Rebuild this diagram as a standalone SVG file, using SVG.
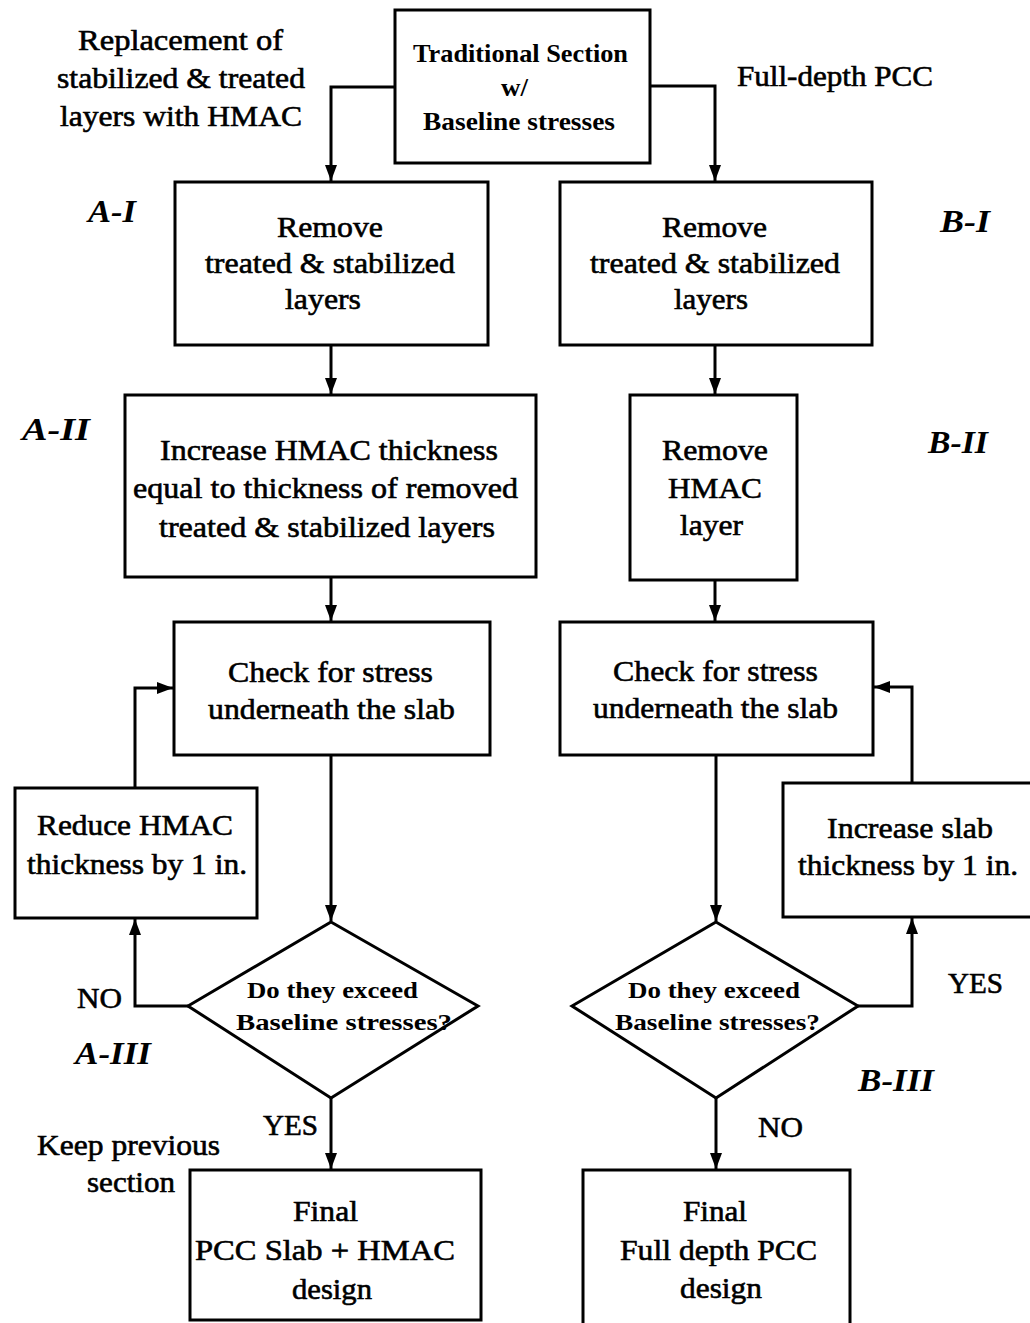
<svg xmlns="http://www.w3.org/2000/svg" width="1030" height="1323" viewBox="0 0 1030 1323">
<style>
.box{fill:#fff;stroke:#000;stroke-width:3}
.ln{fill:none;stroke:#000;stroke-width:3}
text{font-family:"Liberation Serif","Times New Roman",serif;fill:#000}
.t{font-size:30px;stroke:#000;stroke-width:0.6}
.tb{font-size:26px;font-weight:bold}
.lab{font-size:31px;font-weight:bold;font-style:italic}
.dt{font-size:23px;font-weight:bold}
</style>
<defs>
<marker id="ah" viewBox="0 0 16 12" markerWidth="16" markerHeight="12" refX="16" refY="6" orient="auto" markerUnits="userSpaceOnUse">
<path d="M0,0 L16,6 L0,12 z" fill="#000"/>
</marker>
</defs>

<g id="connectors">
<path class="ln" d="M395,87 H331 V181" marker-end="url(#ah)"/>
<path class="ln" d="M650,86 H715 V181" marker-end="url(#ah)"/>
<path class="ln" d="M331,345 V394" marker-end="url(#ah)"/>
<path class="ln" d="M715,345 V394" marker-end="url(#ah)"/>
<path class="ln" d="M331,577 V621" marker-end="url(#ah)"/>
<path class="ln" d="M715,580 V621" marker-end="url(#ah)"/>
<path class="ln" d="M331,755 V921" marker-end="url(#ah)"/>
<path class="ln" d="M716,755 V921" marker-end="url(#ah)"/>
<path class="ln" d="M331,1098 V1169" marker-end="url(#ah)"/>
<path class="ln" d="M716,1098 V1169" marker-end="url(#ah)"/>
<path class="ln" d="M188,1006 H135 V919" marker-end="url(#ah)"/>
<path class="ln" d="M135,788 V688 H173" marker-end="url(#ah)"/>
<path class="ln" d="M858,1006 H912 V918" marker-end="url(#ah)"/>
<path class="ln" d="M912,783 V687 H874" marker-end="url(#ah)"/>
</g>

<g id="labels">
<text class="t" x="78" y="50" textLength="205" lengthAdjust="spacingAndGlyphs">Replacement of</text>
<text class="t" x="57" y="88" textLength="248" lengthAdjust="spacingAndGlyphs">stabilized &amp; treated</text>
<text class="t" x="60" y="126" textLength="242" lengthAdjust="spacingAndGlyphs">layers with HMAC</text>
<text class="t" x="737" y="86" textLength="196" lengthAdjust="spacingAndGlyphs">Full-depth PCC</text>
<text class="lab" x="88" y="222" textLength="48" lengthAdjust="spacingAndGlyphs">A-I</text>
<text class="lab" x="940" y="232" textLength="50" lengthAdjust="spacingAndGlyphs">B-I</text>
<text class="lab" x="22" y="440" textLength="68" lengthAdjust="spacingAndGlyphs">A-II</text>
<text class="lab" x="928" y="453" textLength="60" lengthAdjust="spacingAndGlyphs">B-II</text>
<text class="lab" x="75" y="1064" textLength="76" lengthAdjust="spacingAndGlyphs">A-III</text>
<text class="lab" x="858" y="1091" textLength="76" lengthAdjust="spacingAndGlyphs">B-III</text>
<text class="t" x="77" y="1008" textLength="45" lengthAdjust="spacingAndGlyphs">NO</text>
<text class="t" x="948" y="993" textLength="55" lengthAdjust="spacingAndGlyphs">YES</text>
<text class="t" x="263" y="1135" textLength="55" lengthAdjust="spacingAndGlyphs">YES</text>
<text class="t" x="758" y="1137" textLength="45" lengthAdjust="spacingAndGlyphs">NO</text>
<text class="t" x="37" y="1155" textLength="183" lengthAdjust="spacingAndGlyphs">Keep previous</text>
<text class="t" x="87" y="1192" textLength="88" lengthAdjust="spacingAndGlyphs">section</text>
</g>

<g id="start">
<rect class="box" x="395" y="10" width="255" height="153"/>
<text class="tb" x="413" y="62" textLength="215" lengthAdjust="spacingAndGlyphs">Traditional Section</text>
<text class="tb" x="501" y="96" textLength="27" lengthAdjust="spacingAndGlyphs">w/</text>
<text class="tb" x="423" y="130" textLength="192" lengthAdjust="spacingAndGlyphs">Baseline stresses</text>
</g>

<g id="a1">
<rect class="box" x="175" y="182" width="313" height="163"/>
<text class="t" x="277" y="237" textLength="106" lengthAdjust="spacingAndGlyphs">Remove</text>
<text class="t" x="205" y="273" textLength="250" lengthAdjust="spacingAndGlyphs">treated &amp; stabilized</text>
<text class="t" x="285" y="309" textLength="76" lengthAdjust="spacingAndGlyphs">layers</text>
</g>

<g id="b1">
<rect class="box" x="560" y="182" width="312" height="163"/>
<text class="t" x="662" y="237" textLength="105" lengthAdjust="spacingAndGlyphs">Remove</text>
<text class="t" x="590" y="273" textLength="250" lengthAdjust="spacingAndGlyphs">treated &amp; stabilized</text>
<text class="t" x="674" y="309" textLength="74" lengthAdjust="spacingAndGlyphs">layers</text>
</g>

<g id="a2">
<rect class="box" x="125" y="395" width="411" height="182"/>
<text class="t" x="160" y="460" textLength="338" lengthAdjust="spacingAndGlyphs">Increase HMAC thickness</text>
<text class="t" x="133" y="498" textLength="385" lengthAdjust="spacingAndGlyphs">equal to thickness of removed</text>
<text class="t" x="159" y="537" textLength="336" lengthAdjust="spacingAndGlyphs">treated &amp; stabilized layers</text>
</g>

<g id="b2">
<rect class="box" x="630" y="395" width="167" height="185"/>
<text class="t" x="662" y="460" textLength="106" lengthAdjust="spacingAndGlyphs">Remove</text>
<text class="t" x="668" y="498" textLength="94" lengthAdjust="spacingAndGlyphs">HMAC</text>
<text class="t" x="680" y="535" textLength="63" lengthAdjust="spacingAndGlyphs">layer</text>
</g>

<g id="a-check">
<rect class="box" x="174" y="622" width="316" height="133"/>
<text class="t" x="228" y="682" textLength="205" lengthAdjust="spacingAndGlyphs">Check for stress</text>
<text class="t" x="208" y="719" textLength="247" lengthAdjust="spacingAndGlyphs">underneath the slab</text>
</g>

<g id="b-check">
<rect class="box" x="560" y="622" width="313" height="133"/>
<text class="t" x="613" y="681" textLength="205" lengthAdjust="spacingAndGlyphs">Check for stress</text>
<text class="t" x="593" y="718" textLength="245" lengthAdjust="spacingAndGlyphs">underneath the slab</text>
</g>

<g id="a-reduce">
<rect class="box" x="15" y="788" width="242" height="130"/>
<text class="t" x="37" y="835" textLength="196" lengthAdjust="spacingAndGlyphs">Reduce HMAC</text>
<text class="t" x="27" y="874" textLength="220" lengthAdjust="spacingAndGlyphs">thickness by 1 in.</text>
</g>

<g id="b-increase">
<rect class="box" x="783" y="783" width="252" height="134"/>
<text class="t" x="827" y="838" textLength="166" lengthAdjust="spacingAndGlyphs">Increase slab</text>
<text class="t" x="798" y="875" textLength="220" lengthAdjust="spacingAndGlyphs">thickness by 1 in.</text>
</g>

<g id="a3">
<polygon class="box" points="331,922 478,1006 331,1098 188,1006"/>
<text class="dt" x="247" y="998" textLength="171" lengthAdjust="spacingAndGlyphs">Do they exceed</text>
<text class="dt" x="236" y="1030" textLength="216" lengthAdjust="spacingAndGlyphs">Baseline stresses?</text>
</g>

<g id="b3">
<polygon class="box" points="716,922 858,1006 716,1098 572,1006"/>
<text class="dt" x="628" y="998" textLength="172" lengthAdjust="spacingAndGlyphs">Do they exceed</text>
<text class="dt" x="615" y="1030" textLength="205" lengthAdjust="spacingAndGlyphs">Baseline stresses?</text>
</g>

<g id="a-final">
<rect class="box" x="190" y="1170" width="291" height="150"/>
<text class="t" x="293" y="1221" textLength="65" lengthAdjust="spacingAndGlyphs">Final</text>
<text class="t" x="195" y="1260" textLength="260" lengthAdjust="spacingAndGlyphs">PCC Slab + HMAC</text>
<text class="t" x="292" y="1299" textLength="80" lengthAdjust="spacingAndGlyphs">design</text>
</g>

<g id="b-final">
<rect class="box" x="583" y="1170" width="267" height="160"/>
<text class="t" x="683" y="1221" textLength="64" lengthAdjust="spacingAndGlyphs">Final</text>
<text class="t" x="620" y="1260" textLength="197" lengthAdjust="spacingAndGlyphs">Full depth PCC</text>
<text class="t" x="680" y="1298" textLength="82" lengthAdjust="spacingAndGlyphs">design</text>
</g>
</svg>
